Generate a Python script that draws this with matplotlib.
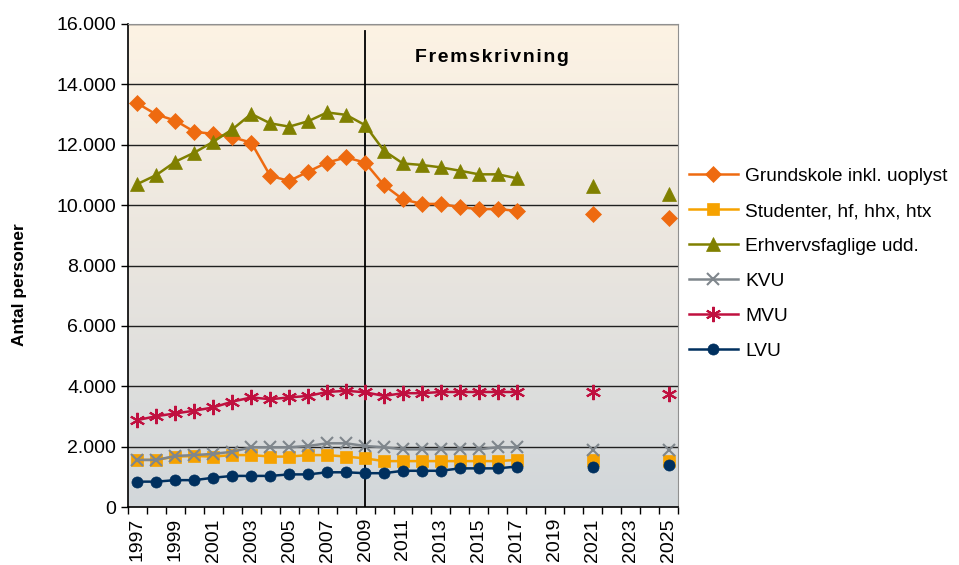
import numpy as np
import matplotlib
matplotlib.use("Agg")
import matplotlib.pyplot as plt
from matplotlib.ticker import FuncFormatter, MultipleLocator

plt.rcParams['font.family'] = ['Liberation Sans', 'DejaVu Sans']

# data
years = list(range(1997, 2018)) + [2021, 2025]

grundskole = [13370, 13000, 12800, 12430, 12360, 12250, 12070, 10970, 10800, 11110,
              11410, 11580, 11410, 10660, 10190, 10040, 10040, 9930, 9870, 9870, 9810,
              9700, 9580]
studenter = [1560, 1560, 1670, 1690, 1670, 1720, 1720, 1670, 1670, 1720,
             1720, 1670, 1610, 1520, 1520, 1520, 1520, 1520, 1520, 1520, 1560,
             1560, 1510]
erhverv = [10700, 11000, 11440, 11740, 12100, 12510, 13020, 12710, 12600, 12780,
           13070, 12990, 12650, 11800, 11380, 11330, 11250, 11140, 11020, 11020, 10890,
           10640, 10370]
kvu = [1560, 1560, 1690, 1720, 1760, 1830, 1980, 1980, 1980, 2020,
       2110, 2110, 2020, 1980, 1910, 1910, 1910, 1910, 1910, 1980, 1980,
       1890, 1890]
mvu = [2880, 3010, 3100, 3190, 3300, 3490, 3630, 3570, 3630, 3680,
       3810, 3850, 3800, 3680, 3770, 3770, 3810, 3810, 3810, 3810, 3810,
       3800, 3740]
lvu = [840, 840, 890, 890, 970, 1030, 1030, 1030, 1080, 1080,
       1150, 1150, 1120, 1120, 1200, 1200, 1200, 1280, 1280, 1280, 1340,
       1310, 1390]

series = [
    ("Grundskole inkl. uoplyst", grundskole, "#EE6A10", "D", 8, "none"),
    ("Studenter, hf, hhx, htx", studenter, "#F6A200", "s", 8, "none"),
    ("Erhvervsfaglige udd.", erhverv, "#808000", "^", 10, "none"),
    ("KVU", kvu, "#7F868C", "x", 9, None),
    ("MVU", mvu, "#C0103F", (6, 2, 0), 11, None),
    ("LVU", lvu, "#00305F", "o", 8, "none"),
]

fig = plt.figure(figsize=(9.59, 5.65), dpi=100)
ax = fig.add_axes([128 / 959, 1 - 507 / 565, 550 / 959, 483 / 565])

# background gradient, cream at the top to grey-blue at the bottom
top = np.array([253, 243, 228]) / 255
mid = np.array([233, 229, 223]) / 255
bot = np.array([210, 215, 218]) / 255
t = np.linspace(0, 1, 256)[:, None]
grad = np.where(t < 0.5, top + (mid - top) * (t / 0.5), mid + (bot - mid) * ((t - 0.5) / 0.5))
ax.imshow(grad[:, None, :], extent=[0, 1, 0, 1], transform=ax.transAxes,
          aspect='auto', zorder=0)

ax.set_xlim(1996.5, 2025.5)
ax.set_ylim(0, 16000)

for y in range(2000, 16001, 2000):
    ax.axhline(y, color='#202020', lw=1.0, zorder=1)
ax.axvline(2009, color='black', lw=1.3, ymax=0.985, zorder=2)

n_hist = 21
for name, vals, color, marker, ms, mfc in series:
    kw = dict(color=color, marker=marker, markersize=ms, markeredgewidth=1.5 if mfc is None else 0.5,
              zorder=4)
    ax.plot(years[:n_hist], vals[:n_hist], lw=1.8, label=name, **kw)
    ax.plot(years[n_hist:], vals[n_hist:], linestyle='none', **kw)

ax.text(2015.7, 14900, "\u200a".join("Fremskrivning"), fontsize=14,
        fontweight='bold', ha='center', va='center', zorder=5)

ax.yaxis.set_major_locator(MultipleLocator(2000))
ax.yaxis.set_major_formatter(FuncFormatter(lambda v, p: f"{int(v):,}".replace(",", ".")))
ax.set_xticks(np.arange(1996.5, 2026, 1), minor=True)
ax.set_xticks(range(1997, 2026, 2))
ax.set_xticklabels([str(y) for y in range(1997, 2026, 2)], rotation=90)
ax.tick_params(axis='x', which='major', length=0, labelsize=14, pad=8)
ax.tick_params(axis='x', which='minor', length=5, width=1, direction='out')
ax.tick_params(axis='y', length=5, width=1, direction='out', labelsize=14)

ax.spines['top'].set_color('#909090')
ax.spines['right'].set_color('#909090')
ax.spines['left'].set_linewidth(1.2)
ax.spines['bottom'].set_linewidth(1.2)

ax.set_ylabel("Antal personer", fontsize=12.5, fontweight='bold')
ax.yaxis.set_label_coords(-0.183, 0.46)

leg = fig.legend(loc='upper left', bbox_to_anchor=(0.7, 0.734), frameon=False,
                 fontsize=13.8, handlelength=2.6, labelspacing=0.92, handletextpad=0.35)

fig.savefig("out.png", dpi=100)
